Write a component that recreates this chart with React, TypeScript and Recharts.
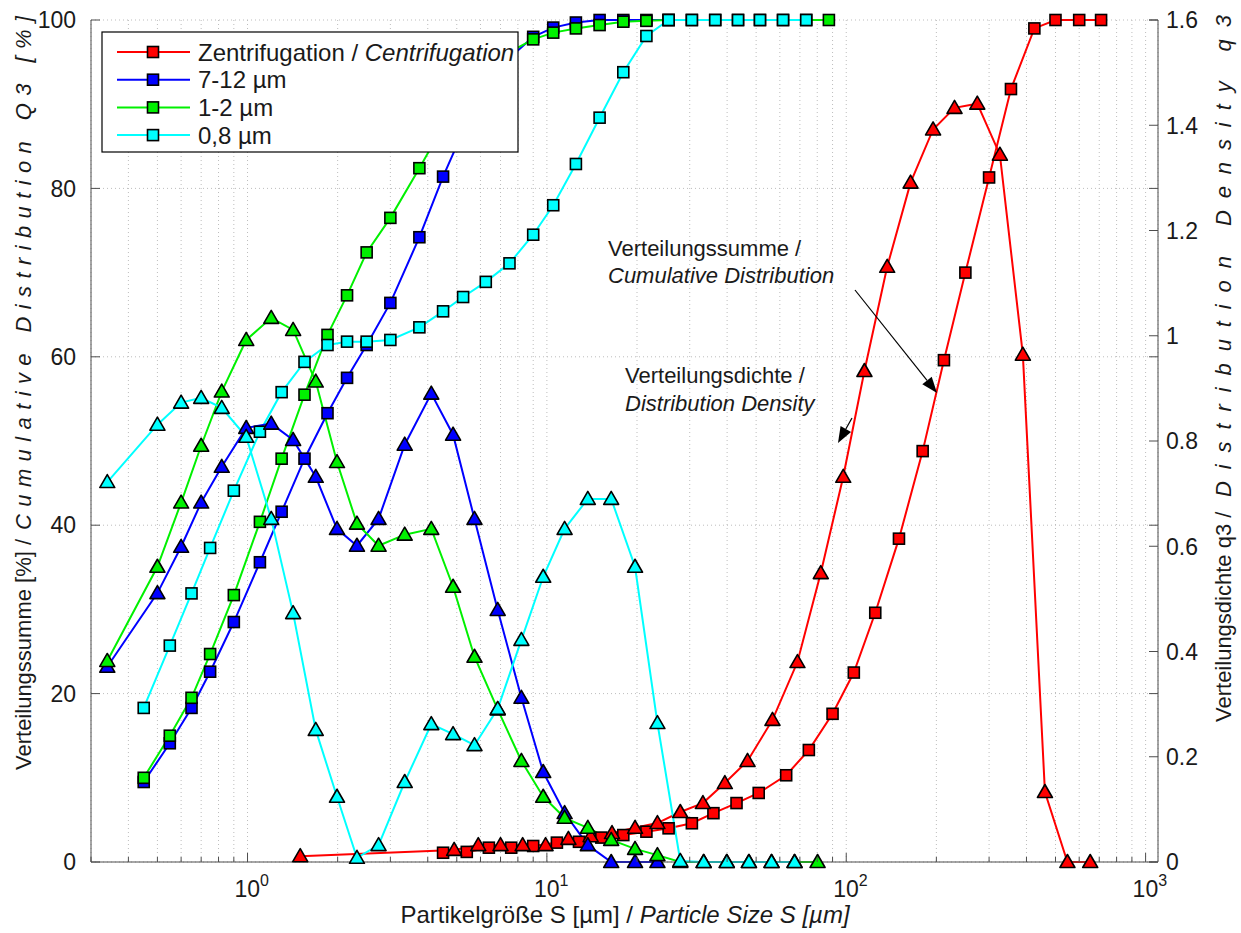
import { CartesianGrid, ComposedChart, Line, XAxis, YAxis } from 'recharts'

const W = 1241
const H = 933
const PLOT_W = 1067
const AXIS = '#4d4d4d'
const INK = '#1a1a1a'
const FONT = '"Liberation Sans", Arial, Helvetica, sans-serif'

// laser diffraction classes: upper limits (Q3) and class means (q3), µm
const classUpper = [0.45, 0.55, 0.65, 0.75, 0.9, 1.1, 1.3, 1.55, 1.85, 2.15, 2.5, 3.0, 3.75, 4.5, 5.25, 6.25, 7.5, 9.0, 10.5, 12.5, 15, 18, 21.5, 25.5, 30.5, 36.5, 43.5, 51.5, 61.5, 73.5, 87.5]
const classMid = [0.34, 0.5, 0.6, 0.7, 0.82, 0.99, 1.2, 1.42, 1.69, 1.99, 2.32, 2.74, 3.35, 4.11, 4.86, 5.73, 6.85, 8.22, 9.72, 11.46, 13.7, 16.4, 19.7, 23.4, 27.9, 33.4, 39.9, 47.3, 56.3, 67.2, 80.2]

// centrifugation classes
const centUpper = [4.5, 5.4, 6.4, 7.6, 9.0, 10.8, 12.8, 15.2, 18, 21.5, 25.5, 30.5, 36, 43, 51, 63, 75, 90, 106, 125, 150, 180, 212, 250, 300, 355, 425, 500, 600, 710]
const centMid = [1.5, 4.9, 5.9, 7.0, 8.3, 9.9, 11.8, 14, 16.5, 19.7, 23.4, 27.9, 33.2, 39.3, 46.8, 56.7, 68.7, 82.2, 97.7, 115, 137, 164, 195, 230, 274, 326, 389, 461, 548, 653]

// cumulative distribution Q3 [%]
const Q3Cent = [1.1, 1.2, 1.7, 1.7, 1.9, 2.3, 2.4, 2.9, 3.2, 3.6, 4.0, 4.6, 5.8, 7.0, 8.2, 10.3, 13.3, 17.6, 22.5, 29.6, 38.4, 48.8, 59.6, 70, 81.3, 91.8, 99, 100, 100, 100]
const Q3Blue = [9.5, 14.1, 18.3, 22.6, 28.5, 35.6, 41.6, 47.9, 53.3, 57.5, 61.4, 66.4, 74.2, 81.4, 86.8, 91.7, 95.5, 98.0, 99.1, 99.7, 100, 100, 100, 100]
const Q3Green = [10.0, 15.0, 19.5, 24.7, 31.7, 40.4, 47.9, 55.5, 62.6, 67.3, 72.4, 76.5, 82.4, 87.4, 90.9, 93.9, 96.2, 97.7, 98.5, 99.0, 99.4, 99.8, 99.9, 100, 100, 100, 100, 100, 100, 100, 100]
const Q3Cyan = [18.3, 25.7, 31.9, 37.3, 44.1, 51.1, 55.8, 59.4, 61.4, 61.8, 61.8, 62.0, 63.5, 65.4, 67.1, 68.9, 71.1, 74.5, 78.0, 82.9, 88.4, 93.8, 98.1, 100, 100, 100, 100, 100, 100, 100]

// distribution density q3
const q3Cent = [0.011, 0.023, 0.032, 0.032, 0.032, 0.032, 0.044, 0.049, 0.055, 0.065, 0.074, 0.095, 0.112, 0.15, 0.192, 0.27, 0.38, 0.549, 0.732, 0.933, 1.131, 1.291, 1.392, 1.433, 1.441, 1.344, 0.964, 0.133, 0, 0]
const q3Blue = [0.371, 0.511, 0.599, 0.683, 0.751, 0.825, 0.833, 0.802, 0.732, 0.633, 0.601, 0.652, 0.793, 0.89, 0.812, 0.652, 0.479, 0.312, 0.171, 0.093, 0.032, 0, 0, 0]
const q3Green = [0.382, 0.561, 0.683, 0.791, 0.894, 0.992, 1.034, 1.011, 0.913, 0.76, 0.643, 0.601, 0.622, 0.633, 0.523, 0.39, 0.29, 0.192, 0.124, 0.084, 0.065, 0.042, 0.025, 0.013, 0, 0, 0, 0, 0, 0, 0]
const q3Cyan = [0.722, 0.831, 0.873, 0.882, 0.863, 0.808, 0.652, 0.473, 0.251, 0.124, 0.008, 0.032, 0.152, 0.262, 0.243, 0.222, 0.291, 0.422, 0.542, 0.633, 0.69, 0.69, 0.561, 0.264, 0.002, 0, 0, 0, 0, 0]

const xTicks = [0.3, 0.4, 0.5, 0.6, 0.7, 0.8, 0.9, 1, 2, 3, 4, 5, 6, 7, 8, 9, 10, 20, 30, 40, 50, 60, 70, 80, 90, 100, 200, 300, 400, 500, 600, 700, 800, 900, 1000]
const sumTicks = [0, 20, 40, 60, 80, 100]
const densTicks = [0, 0.2, 0.4, 0.6, 0.8, 1, 1.2, 1.4, 1.6]

const series = [
  { name: 'Zentrifugation', italic: 'Centrifugation', color: '#ff0000', sx: centUpper, sum: Q3Cent, dx: centMid, dens: q3Cent },
  { name: '7-12 µm', color: '#0000ff', sx: classUpper, sum: Q3Blue, dx: classMid, dens: q3Blue },
  { name: '1-2 µm', color: '#00f000', sx: classUpper, sum: Q3Green, dx: classMid, dens: q3Green },
  { name: '0,8 µm', color: '#00ffff', sx: classUpper, sum: Q3Cyan, dx: classMid, dens: q3Cyan }
]

const pts = (xs: number[], ys: number[]) => ys.map((y, i) => ({ x: xs[i], y }))

const isDecade = (v: number) => Math.abs(Math.log10(v) - Math.round(Math.log10(v))) < 1e-9

function Square({ cx, cy, fill }: any) {
  if (cx == null || cy == null) return null
  return <rect x={cx - 5.5} y={cy - 5.5} width={11} height={11} fill={fill} stroke="#000" strokeWidth={1.6} />
}

function Triangle({ cx, cy, fill }: any) {
  if (cx == null || cy == null) return null
  return <polygon points={`${cx},${cy - 7.5} ${cx + 7.5},${cy + 5.5} ${cx - 7.5},${cy + 5.5}`} fill={fill} stroke="#000" strokeWidth={1.6} strokeLinejoin="round" />
}

function XTickBottom({ x, y, payload }: any) {
  const v = payload.value
  const major = isDecade(v)
  const exp = Math.round(Math.log10(v))
  return (
    <g>
      <line x1={x} x2={x} y1={y} y2={y - (major ? 9 : 5)} stroke={AXIS} />
      {major && (
        <text x={x - 13} y={y + 35} fontSize={23} fill={INK} fontFamily={FONT}>
          10<tspan dy={-11} fontSize={16}>{exp}</tspan>
        </text>
      )}
    </g>
  )
}

function XTickTop({ x, y, payload }: any) {
  const major = isDecade(payload.value)
  return <line x1={x} x2={x} y1={y} y2={y + (major ? 9 : 5)} stroke={AXIS} />
}

function SumTick({ x, y, payload }: any) {
  return (
    <g>
      <line x1={x} x2={x + 9} y1={y} y2={y} stroke={AXIS} />
      <line x1={x + PLOT_W} x2={x + PLOT_W - 9} y1={y} y2={y} stroke={AXIS} />
      <text x={x - 15} y={y} dy="0.36em" textAnchor="end" fontSize={23} fill={INK} fontFamily={FONT}>
        {payload.value}
      </text>
    </g>
  )
}

function DensTick({ x, y, payload }: any) {
  return (
    <g>
      <line x1={x} x2={x - 9} y1={y} y2={y} stroke={AXIS} />
      <text x={x + 8} y={y} dy="0.36em" textAnchor="start" fontSize={23} fill={INK} fontFamily={FONT}>
        {payload.value}
      </text>
    </g>
  )
}

function Arrow({ x1, y1, x2, y2 }: { x1: number; y1: number; y2: number; x2: number }) {
  const a = Math.atan2(y2 - y1, x2 - x1)
  const len = 16
  const w = 6
  const bx = x2 - len * Math.cos(a)
  const by = y2 - len * Math.sin(a)
  const px = -Math.sin(a) * w
  const py = Math.cos(a) * w
  return (
    <g>
      <line x1={x1} y1={y1} x2={bx} y2={by} stroke="#000" strokeWidth={1.2} />
      <polygon points={`${x2},${y2} ${bx + px},${by + py} ${bx - px},${by - py}`} fill="#000" />
    </g>
  )
}

export default function App() {
  return (
    <div style={{ position: 'absolute', left: 0, top: 0, width: W, height: H, background: '#fff' }}>
      <ComposedChart width={W} height={H} margin={{ top: 20, right: 0, bottom: 0, left: 0 }}>
        <CartesianGrid xAxisId="b" yAxisId="sum" stroke="#bdbdbd" strokeDasharray="1 3" />
        <XAxis
          xAxisId="b"
          dataKey="x"
          type="number"
          scale="log"
          domain={[0.3, 1100]}
          allowDataOverflow
          ticks={xTicks}
          interval={0}
          height={71}
          tickLine={false}
          tickSize={0}
          tickMargin={0}
          stroke={AXIS}
          tick={<XTickBottom />}
        />
        <XAxis
          xAxisId="t"
          orientation="top"
          dataKey="x"
          type="number"
          scale="log"
          domain={[0.3, 1100]}
          allowDataOverflow
          ticks={xTicks}
          interval={0}
          height={0}
          tickLine={false}
          tickSize={0}
          tickMargin={0}
          stroke={AXIS}
          tick={<XTickTop />}
        />
        <YAxis
          yAxisId="sum"
          domain={[0, 100]}
          ticks={sumTicks}
          interval={0}
          width={91}
          tickLine={false}
          tickSize={0}
          tickMargin={0}
          stroke={AXIS}
          tick={<SumTick />}
        />
        <YAxis
          yAxisId="dens"
          orientation="right"
          domain={[0, 1.6]}
          ticks={densTicks}
          interval={0}
          width={83}
          tickLine={false}
          tickSize={0}
          tickMargin={0}
          stroke={AXIS}
          tick={<DensTick />}
        />
        {series.map((s) => (
          <Line
            key={`sum-${s.name}`}
            xAxisId="b"
            yAxisId="sum"
            data={pts(s.sx, s.sum)}
            dataKey="y"
            stroke={s.color}
            strokeWidth={2}
            dot={(p: any) => <Square key={`sq-${s.name}-${p.index}`} cx={p.cx} cy={p.cy} fill={s.color} />}
            activeDot={false}
            isAnimationActive={false}
          />
        ))}
        {series.map((s) => (
          <Line
            key={`dens-${s.name}`}
            xAxisId="b"
            yAxisId="dens"
            data={pts(s.dx, s.dens)}
            dataKey="y"
            stroke={s.color}
            strokeWidth={2}
            dot={(p: any) => <Triangle key={`tr-${s.name}-${p.index}`} cx={p.cx} cy={p.cy} fill={s.color} />}
            activeDot={false}
            isAnimationActive={false}
          />
        ))}
      </ComposedChart>

      <svg width={W} height={H} style={{ position: 'absolute', left: 0, top: 0, pointerEvents: 'none' }} fontFamily={FONT} fill={INK}>
        {/* legend */}
        <rect x={102} y={32} width={416} height={120} fill="#fff" stroke="#000" strokeWidth={1.2} />
        {series.map((s, i) => {
          const cy = 52 + i * 27.7
          return (
            <g key={`lg-${s.name}`}>
              <line x1={117} x2={190} y1={cy} y2={cy} stroke={s.color} strokeWidth={2} />
              <Square cx={153} cy={cy} fill={s.color} />
              <text x={198} y={cy} dy="0.36em" fontSize={24}>
                {s.name}
                {s.italic && <tspan> / </tspan>}
                {s.italic && <tspan fontStyle="italic">{s.italic}</tspan>}
              </text>
            </g>
          )
        })}

        {/* annotations */}
        <text x={608} y={256} fontSize={22}>Verteilungssumme /</text>
        <text x={608} y={283} fontSize={22} fontStyle="italic">Cumulative Distribution</text>
        <text x={625} y={383} fontSize={22}>Verteilungsdichte /</text>
        <text x={625} y={411} fontSize={22} fontStyle="italic">Distribution Density</text>
        <Arrow x1={855} y1={290} x2={937} y2={393} />
        <Arrow x1={852} y1={418} x2={838} y2={443} />

        {/* axis titles */}
        <text x={625} y={923} textAnchor="middle" fontSize={24}>
          Partikelgröße S [µm] / <tspan fontStyle="italic">Particle Size S [µm]</tspan>
        </text>
        <text transform="translate(31 770) rotate(-90)" fontSize={22}>
          Verteilungssumme [%] /
        </text>
        <text transform="translate(31 530) rotate(-90)" fontSize={22} fontStyle="italic" textLength={514} lengthAdjust="spacing">
          Cumulative Distribution Q3 [%]
        </text>
        <text transform="translate(1231 722) rotate(-90)" fontSize={22}>
          Verteilungsdichte q3 /
        </text>
        <text transform="translate(1231 497) rotate(-90)" fontSize={22} fontStyle="italic" textLength={482} lengthAdjust="spacing">
          Distribution Density q3
        </text>
      </svg>
    </div>
  )
}
